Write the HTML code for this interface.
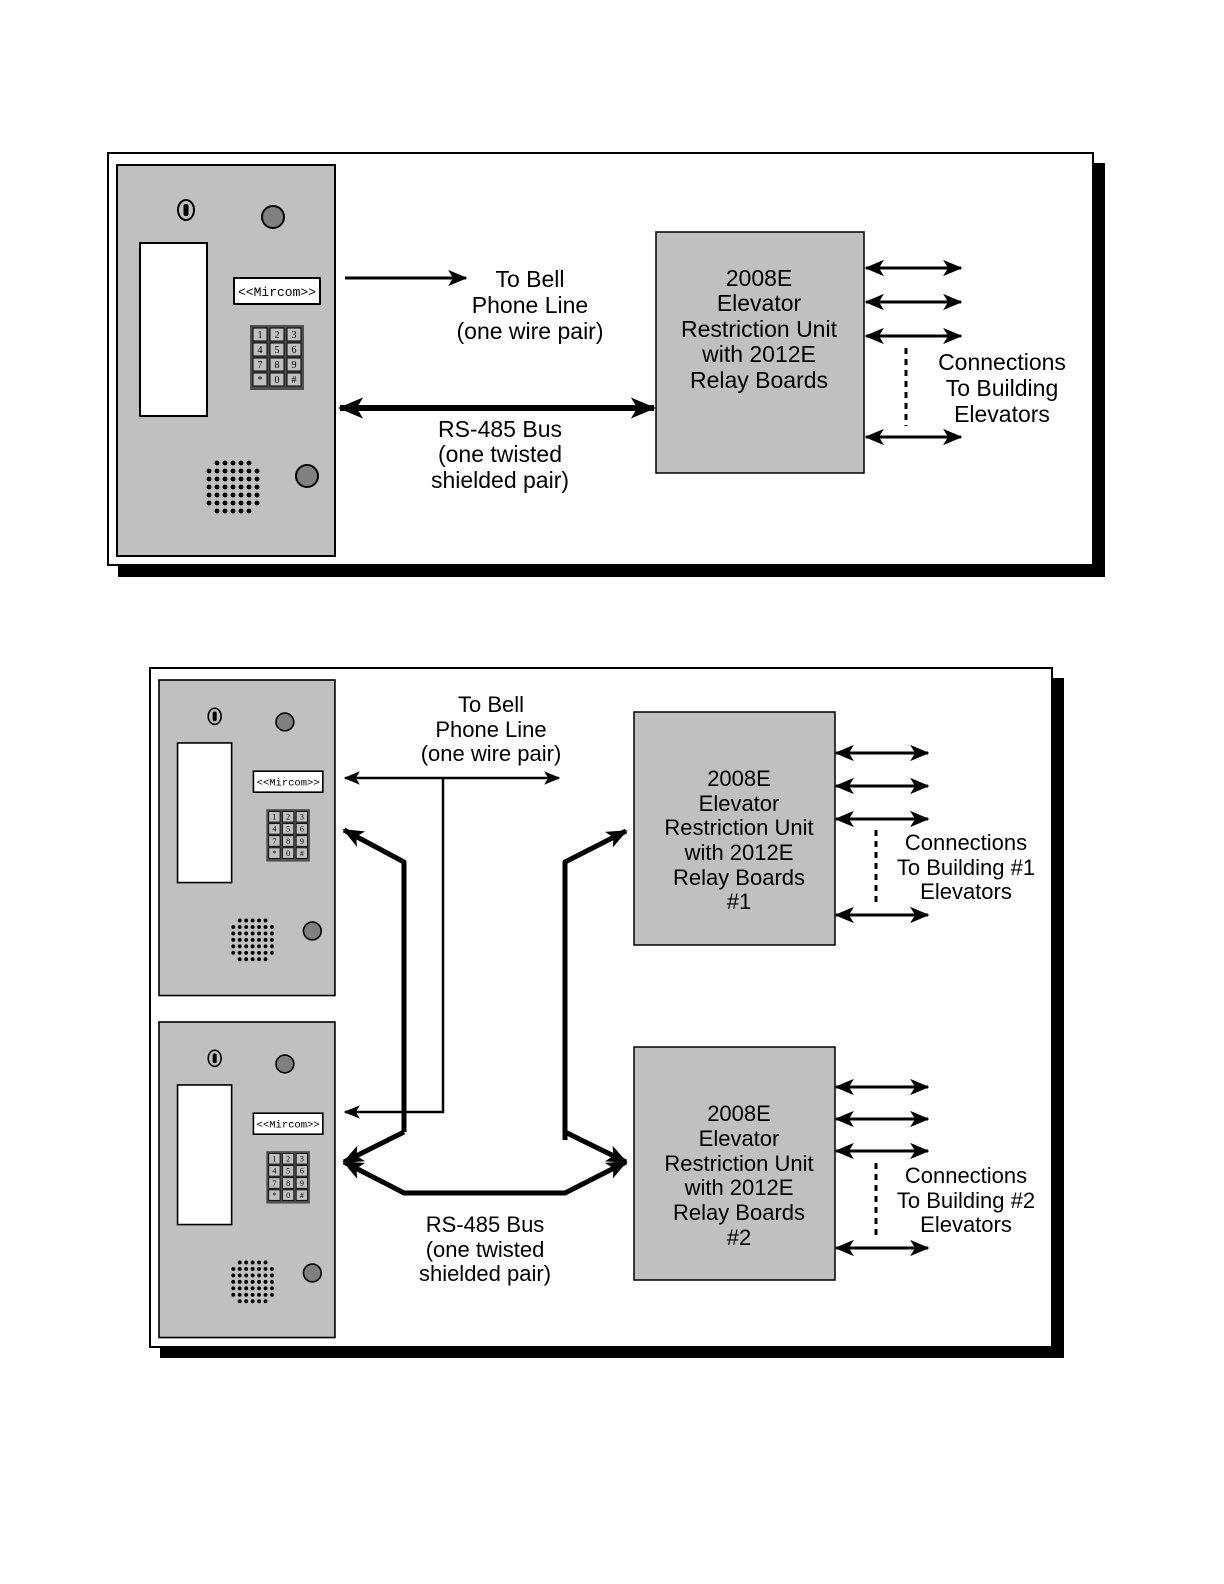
<!DOCTYPE html>
<html><head><meta charset="utf-8"><style>
html,body{margin:0;padding:0;background:#fff}
svg{display:block}
text{font-family:"Liberation Sans",Arial,sans-serif;fill:#000}
</style></head><body>
<svg width="1224" height="1584" viewBox="0 0 1224 1584" xmlns="http://www.w3.org/2000/svg">
<defs>
<marker id="a" viewBox="0 0 12 10" refX="11" refY="5" markerWidth="6.5" markerHeight="6" orient="auto-start-reverse" markerUnits="strokeWidth"><path d="M0,0 L12,5 L0,10 L3,5 z" fill="#000"/></marker>
<marker id="b" viewBox="0 0 12 10" refX="11" refY="5" markerWidth="4.2" markerHeight="4" orient="auto-start-reverse" markerUnits="strokeWidth"><path d="M0,0 L12,5 L0,10 L3,5 z" fill="#000"/></marker>
<g id="spk">
<g fill="#000">
<circle cx="100" cy="298" r="2.4"/><circle cx="108" cy="298" r="2.4"/><circle cx="116" cy="298" r="2.4"/><circle cx="124" cy="298" r="2.4"/><circle cx="132" cy="298" r="2.4"/>
<circle cx="92" cy="306" r="2.4"/><circle cx="100" cy="306" r="2.4"/><circle cx="108" cy="306" r="2.4"/><circle cx="116" cy="306" r="2.4"/><circle cx="124" cy="306" r="2.4"/><circle cx="132" cy="306" r="2.4"/><circle cx="140" cy="306" r="2.4"/>
<circle cx="92" cy="314" r="2.4"/><circle cx="100" cy="314" r="2.4"/><circle cx="108" cy="314" r="2.4"/><circle cx="116" cy="314" r="2.4"/><circle cx="124" cy="314" r="2.4"/><circle cx="132" cy="314" r="2.4"/><circle cx="140" cy="314" r="2.4"/>
<circle cx="92" cy="322" r="2.4"/><circle cx="100" cy="322" r="2.4"/><circle cx="108" cy="322" r="2.4"/><circle cx="116" cy="322" r="2.4"/><circle cx="124" cy="322" r="2.4"/><circle cx="132" cy="322" r="2.4"/><circle cx="140" cy="322" r="2.4"/>
<circle cx="92" cy="330" r="2.4"/><circle cx="100" cy="330" r="2.4"/><circle cx="108" cy="330" r="2.4"/><circle cx="116" cy="330" r="2.4"/><circle cx="124" cy="330" r="2.4"/><circle cx="132" cy="330" r="2.4"/><circle cx="140" cy="330" r="2.4"/>
<circle cx="92" cy="338" r="2.4"/><circle cx="100" cy="338" r="2.4"/><circle cx="108" cy="338" r="2.4"/><circle cx="116" cy="338" r="2.4"/><circle cx="124" cy="338" r="2.4"/><circle cx="132" cy="338" r="2.4"/><circle cx="140" cy="338" r="2.4"/>
<circle cx="100" cy="346" r="2.4"/><circle cx="108" cy="346" r="2.4"/><circle cx="116" cy="346" r="2.4"/><circle cx="124" cy="346" r="2.4"/><circle cx="132" cy="346" r="2.4"/>
</g></g>
<g id="kp">
<rect x="133" y="160" width="54" height="65" fill="#505050"/>
<g fill="#c0c0c0" stroke="#000" stroke-width="1">
<rect x="136" y="163" width="14" height="13"/><rect x="153" y="163" width="14" height="13"/><rect x="170" y="163" width="14" height="13"/>
<rect x="136" y="178" width="14" height="13"/><rect x="153" y="178" width="14" height="13"/><rect x="170" y="178" width="14" height="13"/>
<rect x="136" y="193" width="14" height="13"/><rect x="153" y="193" width="14" height="13"/><rect x="170" y="193" width="14" height="13"/>
<rect x="136" y="208" width="14" height="13"/><rect x="153" y="208" width="14" height="13"/><rect x="170" y="208" width="14" height="13"/>
</g></g>
<g id="dev">
<rect x="0" y="0" width="218" height="391" fill="#c0c0c0" stroke="#000" stroke-width="2"/>
<ellipse cx="69" cy="45" rx="8" ry="10" fill="none" stroke="#000" stroke-width="2"/>
<rect x="66.5" y="39" width="5" height="12" rx="2" fill="#000"/>
<circle cx="156" cy="52" r="11" fill="#808080" stroke="#000" stroke-width="2"/>
<rect x="23" y="78" width="67" height="173" fill="#fff" stroke="#000" stroke-width="2"/>
<rect x="117" y="113" width="86" height="26" fill="#fff" stroke="#000" stroke-width="2"/>
<use href="#kp"/>
<use href="#spk"/>
<circle cx="190" cy="311" r="11" fill="#808080" stroke="#000" stroke-width="2"/>
</g>
</defs>

<!-- TOP PANEL -->
<rect x="118" y="163" width="987" height="414" fill="#000"/>
<rect x="108" y="153" width="985" height="412" fill="#fff" stroke="#000" stroke-width="2"/>
<g transform="translate(117,165)">
<use href="#dev"/>
<text x="160" y="131" font-size="13" text-anchor="middle" style="font-family:'Liberation Mono',monospace">&lt;&lt;Mircom&gt;&gt;</text>
<g font-size="10" text-anchor="middle">
<text x="143" y="173" style="font-family:'Liberation Serif',serif">1</text><text x="160" y="173" style="font-family:'Liberation Serif',serif">2</text><text x="177" y="173" style="font-family:'Liberation Serif',serif">3</text>
<text x="143" y="188" style="font-family:'Liberation Serif',serif">4</text><text x="160" y="188" style="font-family:'Liberation Serif',serif">5</text><text x="177" y="188" style="font-family:'Liberation Serif',serif">6</text>
<text x="143" y="203" style="font-family:'Liberation Serif',serif">7</text><text x="160" y="203" style="font-family:'Liberation Serif',serif">8</text><text x="177" y="203" style="font-family:'Liberation Serif',serif">9</text>
<text x="143" y="218" style="font-family:'Liberation Serif',serif">*</text><text x="160" y="218" style="font-family:'Liberation Serif',serif">0</text><text x="177" y="218" style="font-family:'Liberation Serif',serif">#</text>
</g>
</g>
<line x1="345" y1="278" x2="466" y2="278" stroke="#000" stroke-width="3" marker-end="url(#a)"/>
<line x1="340" y1="408" x2="654" y2="408" stroke="#000" stroke-width="6" marker-start="url(#b)" marker-end="url(#b)"/>
<rect x="656" y="232" width="208" height="241" fill="#c0c0c0" stroke="#000" stroke-width="1.5"/>
<g font-size="23" text-anchor="middle">
<text x="530" y="287">To Bell</text><text x="530" y="313">Phone Line</text><text x="530" y="339">(one wire pair)</text>
<text x="500" y="437">RS-485 Bus</text><text x="500" y="462">(one twisted</text><text x="500" y="488">shielded pair)</text>
<text x="759" y="286">2008E</text><text x="759" y="311">Elevator</text><text x="759" y="337">Restriction Unit</text><text x="759" y="362">with 2012E</text><text x="759" y="388">Relay Boards</text>
<text x="1002" y="370">Connections</text><text x="1002" y="396">To Building</text><text x="1002" y="422">Elevators</text>
</g>
<g stroke="#000" stroke-width="3">
<line x1="866" y1="268" x2="961" y2="268" marker-start="url(#a)" marker-end="url(#a)"/>
<line x1="866" y1="302" x2="961" y2="302" marker-start="url(#a)" marker-end="url(#a)"/>
<line x1="866" y1="336" x2="961" y2="336" marker-start="url(#a)" marker-end="url(#a)"/>
<line x1="866" y1="437" x2="961" y2="437" marker-start="url(#a)" marker-end="url(#a)"/>
<line x1="906" y1="348" x2="906" y2="426" stroke-dasharray="6,5"/>
</g>

<!-- BOTTOM PANEL -->
<rect x="160" y="678" width="904" height="680" fill="#000"/>
<rect x="150" y="668" width="902" height="679" fill="#fff" stroke="#000" stroke-width="2"/>
<g transform="translate(159,680) scale(0.807)">
<use href="#dev"/>
<text x="160" y="131" font-size="13" text-anchor="middle" style="font-family:'Liberation Mono',monospace">&lt;&lt;Mircom&gt;&gt;</text>
<g font-size="10" text-anchor="middle">
<text x="143" y="173" style="font-family:'Liberation Serif',serif">1</text><text x="160" y="173" style="font-family:'Liberation Serif',serif">2</text><text x="177" y="173" style="font-family:'Liberation Serif',serif">3</text>
<text x="143" y="188" style="font-family:'Liberation Serif',serif">4</text><text x="160" y="188" style="font-family:'Liberation Serif',serif">5</text><text x="177" y="188" style="font-family:'Liberation Serif',serif">6</text>
<text x="143" y="203" style="font-family:'Liberation Serif',serif">7</text><text x="160" y="203" style="font-family:'Liberation Serif',serif">8</text><text x="177" y="203" style="font-family:'Liberation Serif',serif">9</text>
<text x="143" y="218" style="font-family:'Liberation Serif',serif">*</text><text x="160" y="218" style="font-family:'Liberation Serif',serif">0</text><text x="177" y="218" style="font-family:'Liberation Serif',serif">#</text>
</g>
</g>
<g transform="translate(159,1022) scale(0.807)">
<use href="#dev"/>
<text x="160" y="131" font-size="13" text-anchor="middle" style="font-family:'Liberation Mono',monospace">&lt;&lt;Mircom&gt;&gt;</text>
<g font-size="10" text-anchor="middle">
<text x="143" y="173" style="font-family:'Liberation Serif',serif">1</text><text x="160" y="173" style="font-family:'Liberation Serif',serif">2</text><text x="177" y="173" style="font-family:'Liberation Serif',serif">3</text>
<text x="143" y="188" style="font-family:'Liberation Serif',serif">4</text><text x="160" y="188" style="font-family:'Liberation Serif',serif">5</text><text x="177" y="188" style="font-family:'Liberation Serif',serif">6</text>
<text x="143" y="203" style="font-family:'Liberation Serif',serif">7</text><text x="160" y="203" style="font-family:'Liberation Serif',serif">8</text><text x="177" y="203" style="font-family:'Liberation Serif',serif">9</text>
<text x="143" y="218" style="font-family:'Liberation Serif',serif">*</text><text x="160" y="218" style="font-family:'Liberation Serif',serif">0</text><text x="177" y="218" style="font-family:'Liberation Serif',serif">#</text>
</g>
</g>
<rect x="634" y="712" width="201" height="233" fill="#c0c0c0" stroke="#000" stroke-width="1.5"/>
<rect x="634" y="1047" width="201" height="233" fill="#c0c0c0" stroke="#000" stroke-width="1.5"/>
<g font-size="22" text-anchor="middle">
<text x="491" y="712">To Bell</text><text x="491" y="737">Phone Line</text><text x="491" y="761">(one wire pair)</text>
<text x="485" y="1232">RS-485 Bus</text><text x="485" y="1257">(one twisted</text><text x="485" y="1281">shielded pair)</text>
<text x="739" y="786">2008E</text><text x="739" y="811">Elevator</text><text x="739" y="835">Restriction Unit</text><text x="739" y="860">with 2012E</text><text x="739" y="885">Relay Boards</text><text x="739" y="909">#1</text>
<text x="739" y="1121">2008E</text><text x="739" y="1146">Elevator</text><text x="739" y="1171">Restriction Unit</text><text x="739" y="1195">with 2012E</text><text x="739" y="1220">Relay Boards</text><text x="739" y="1245">#2</text>
<text x="966" y="850">Connections</text><text x="966" y="875">To Building #1</text><text x="966" y="899">Elevators</text>
<text x="966" y="1183">Connections</text><text x="966" y="1208">To Building #2</text><text x="966" y="1232">Elevators</text>
</g>
<g stroke="#000" stroke-width="3">
<line x1="836" y1="753" x2="928" y2="753" marker-start="url(#a)" marker-end="url(#a)"/>
<line x1="836" y1="786" x2="928" y2="786" marker-start="url(#a)" marker-end="url(#a)"/>
<line x1="836" y1="819" x2="928" y2="819" marker-start="url(#a)" marker-end="url(#a)"/>
<line x1="836" y1="915" x2="928" y2="915" marker-start="url(#a)" marker-end="url(#a)"/>
<line x1="876" y1="830" x2="876" y2="902" stroke-dasharray="6,5"/>
<line x1="836" y1="1087" x2="928" y2="1087" marker-start="url(#a)" marker-end="url(#a)"/>
<line x1="836" y1="1119" x2="928" y2="1119" marker-start="url(#a)" marker-end="url(#a)"/>
<line x1="836" y1="1151" x2="928" y2="1151" marker-start="url(#a)" marker-end="url(#a)"/>
<line x1="836" y1="1248" x2="928" y2="1248" marker-start="url(#a)" marker-end="url(#a)"/>
<line x1="876" y1="1163" x2="876" y2="1235" stroke-dasharray="6,5"/>
</g>
<g fill="none" stroke="#000">
<line x1="345" y1="778" x2="559" y2="778" stroke-width="2.5" marker-start="url(#a)" marker-end="url(#a)"/>
<polyline points="443,778 443,1112 345,1112" stroke-width="2.5" marker-end="url(#a)"/>
<polyline points="404,1132 404,862 344,830" stroke-width="5" stroke-linejoin="round" marker-end="url(#b)"/>
<polyline points="565,1140 565,862 626,831" stroke-width="5" stroke-linejoin="round" marker-end="url(#b)"/>
<polyline points="344,1162 404,1132" stroke-width="5" marker-start="url(#b)"/>
<polyline points="565,1132 626,1162" stroke-width="5" marker-end="url(#b)"/>
<polyline points="344,1162 404,1193 565,1193 626,1162" stroke-width="5" stroke-linejoin="round" marker-start="url(#b)" marker-end="url(#b)"/>
</g>
</svg>
</body></html>
